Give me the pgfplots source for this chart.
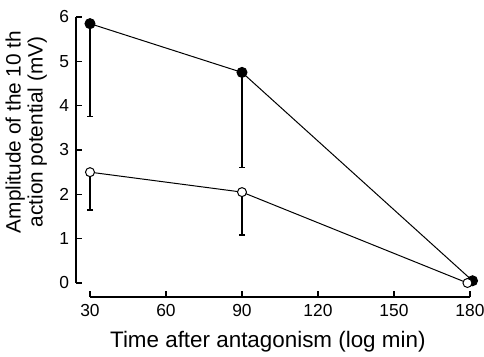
\documentclass[border=0pt]{standalone}
\usepackage{fontspec}
\setmainfont{Liberation Sans}
\usepackage{pgfplots}
\pgfplotsset{compat=1.18}
\begin{document}
\begin{tikzpicture}
\begin{axis}[
 scale only axis, width=190pt, height=133pt,
 xmin=30, xmax=180, ymin=0, ymax=6,
 axis lines=left, axis line style={-},
 x axis line style={line width=0.7pt}, y axis line style={line width=0.9pt},
 axis x line shift=7pt, axis y line shift=7pt,
 xtick={30,60,...,180}, ytick={0,...,6},
 tick align=inside, major tick length=3pt,
 tick style={line width=0.6pt, black},
 clip=false,
 /pgf/number format/assume math mode=true,
 ticklabel style={font=\fontsize{8.7}{10}\selectfont},
 xlabel={Time after antagonism (log min)},
 ylabel={Amplitude of the 10 th\\action potential (mV)},
 xlabel style={at={(axis description cs:0.468,-0.222)}, anchor=center, font=\fontsize{11.2}{13}\selectfont},
 ylabel style={at={(axis description cs:-0.168,0.568)}, anchor=center, align=center, font=\fontsize{10.4}{11}\selectfont},
 error bars/error bar style={line width=0.7pt},
 error bars/error mark options={rotate=90, mark size=1.6pt, line width=0.7pt},
]
\coordinate (bl) at (axis cs:30,0);
\addplot[black, line width=0.5pt, mark=*, mark size=2.5pt, mark options={fill=black},
  error bars/.cd, y dir=minus, y explicit]
  coordinates {(30,5.85) -= (0,2.1) (90,4.75) -= (0,2.15) (181,0.05) -= (0,0)};
\addplot[black, line width=0.5pt, mark=*, mark size=2.25pt, mark options={fill=white},
  error bars/.cd, y dir=minus, y explicit]
  coordinates {(30,2.5) -= (0,0.85) (90,2.05) -= (0,0.97) (179,0) -= (0,0)};
\end{axis}
\pgfresetboundingbox
\path (bl) ++(-45pt,-37pt) rectangle ++(242pt,178.5pt);
\end{tikzpicture}
\end{document}
